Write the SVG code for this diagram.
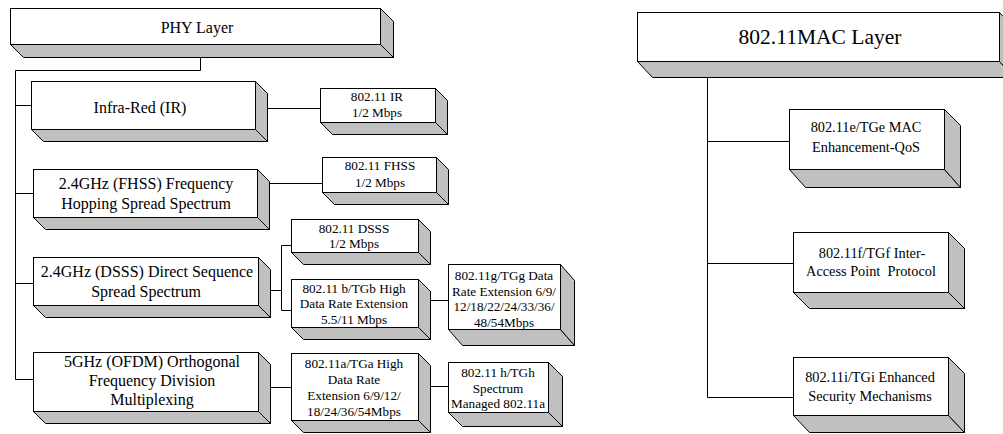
<svg xmlns="http://www.w3.org/2000/svg" width="1003" height="434" viewBox="0 0 1003 434">
<style>
.f{fill:#fff;stroke:#000;stroke-width:1}
.s{fill:#c0c0c0;stroke:#000;stroke-width:1;stroke-linejoin:miter}
.c{fill:none;stroke:#000;stroke-width:1}
text{font-family:"Liberation Serif","Times New Roman",serif;fill:#000;text-anchor:middle}
.L{font-size:16px}
.S{font-size:13.2px}
.R{font-size:14.3px}
.M{font-size:21.5px}
</style>
<rect width="1003" height="434" fill="#fff"/>
<g id="connectors">
<polyline class="c" points="200.5,57 200.5,70.5 15.5,70.5 15.5,379.5 33,379.5"/>
<line class="c" x1="15" y1="105.5" x2="31" y2="105.5"/>
<line class="c" x1="15" y1="193.5" x2="33" y2="193.5"/>
<line class="c" x1="15" y1="283.5" x2="33" y2="283.5"/>
<line class="c" x1="267" y1="108.5" x2="320" y2="108.5"/>
<line class="c" x1="269" y1="183.5" x2="322" y2="183.5"/>
<line class="c" x1="270" y1="290.5" x2="281.5" y2="290.5"/>
<polyline class="c" points="291,245.5 281.5,245.5 281.5,310.5 291,310.5"/>
<line class="c" x1="430" y1="300.5" x2="448" y2="300.5"/>
<line class="c" x1="270" y1="387.5" x2="291" y2="387.5"/>
<line class="c" x1="430" y1="386.5" x2="448" y2="386.5"/>
<polyline class="c" points="707.5,77 707.5,397.5 793,397.5"/>
<line class="c" x1="707" y1="141.5" x2="789" y2="141.5"/>
<line class="c" x1="707" y1="263.5" x2="793" y2="263.5"/>
</g>
<g id="phy">
<polygon class="s" points="10.5,44.5 380.5,44.5 393.5,57.5 23.5,57.5"/>
<polygon class="s" points="380.5,8.5 393.5,21.5 393.5,57.5 380.5,44.5"/>
<rect class="f" x="10.5" y="8.5" width="370" height="36"/>
<text class="L" x="197" y="33">PHY Layer</text>
</g>
<g id="ir">
<polygon class="s" points="31.5,129.5 255.5,129.5 267.5,141.5 43.5,141.5"/>
<polygon class="s" points="255.5,81.5 267.5,93.5 267.5,141.5 255.5,129.5"/>
<rect class="f" x="31.5" y="81.5" width="224" height="48"/>
<text class="L" x="140" y="113">Infra-Red (IR)</text>
</g>
<g id="fhss">
<polygon class="s" points="33.5,217.5 257.5,217.5 269.5,229.5 45.5,229.5"/>
<polygon class="s" points="257.5,169.5 269.5,181.5 269.5,229.5 257.5,217.5"/>
<rect class="f" x="33.5" y="169.5" width="224" height="48"/>
<text class="L" x="146" y="189">2.4GHz (FHSS) Frequency</text>
<text class="L" x="146" y="209">Hopping Spread Spectrum</text>
</g>
<g id="dsss">
<polygon class="s" points="33.5,305.5 258.5,305.5 270.5,317.5 45.5,317.5"/>
<polygon class="s" points="258.5,257.5 270.5,269.5 270.5,317.5 258.5,305.5"/>
<rect class="f" x="33.5" y="257.5" width="225" height="48"/>
<text class="L" x="147" y="277">2.4GHz (DSSS) Direct Sequence</text>
<text class="L" x="146" y="297">Spread Spectrum</text>
</g>
<g id="ofdm">
<polygon class="s" points="33.5,411.5 258.5,411.5 270.5,423.5 45.5,423.5"/>
<polygon class="s" points="258.5,352.5 270.5,364.5 270.5,423.5 258.5,411.5"/>
<rect class="f" x="33.5" y="352.5" width="225" height="59"/>
<text class="L" x="152" y="367">5GHz (OFDM) Orthogonal</text>
<text class="L" x="152" y="386">Frequency Division</text>
<text class="L" x="152" y="405">Multiplexing</text>
</g>
<g id="ir-std">
<polygon class="s" points="320.5,122.5 435.5,122.5 447.5,134.5 332.5,134.5"/>
<polygon class="s" points="435.5,88.5 447.5,100.5 447.5,134.5 435.5,122.5"/>
<rect class="f" x="320.5" y="88.5" width="115" height="34"/>
<text class="S" x="377" y="101">802.11 IR</text>
<text class="S" x="377" y="117">1/2 Mbps</text>
</g>
<g id="fhss-std">
<polygon class="s" points="322.5,192.5 436.5,192.5 448.5,204.5 334.5,204.5"/>
<polygon class="s" points="436.5,157.5 448.5,169.5 448.5,204.5 436.5,192.5"/>
<rect class="f" x="322.5" y="157.5" width="114" height="35"/>
<text class="S" x="380" y="170">802.11 FHSS</text>
<text class="S" x="380" y="187">1/2 Mbps</text>
</g>
<g id="dsss-std">
<polygon class="s" points="291.5,252.5 418.5,252.5 430.5,264.5 303.5,264.5"/>
<polygon class="s" points="418.5,219.5 430.5,231.5 430.5,264.5 418.5,252.5"/>
<rect class="f" x="291.5" y="219.5" width="127" height="33"/>
<text class="S" x="354" y="233">802.11 DSSS</text>
<text class="S" x="354" y="248">1/2 Mbps</text>
</g>
<g id="tgb">
<polygon class="s" points="291.5,327.5 418.5,327.5 430.5,339.5 303.5,339.5"/>
<polygon class="s" points="418.5,279.5 430.5,291.5 430.5,339.5 418.5,327.5"/>
<rect class="f" x="291.5" y="279.5" width="127" height="48"/>
<text class="S" x="354" y="293">802.11 b/TGb High</text>
<text class="S" x="354" y="308">Data Rate Extension</text>
<text class="S" x="354" y="324">5.5/11 Mbps</text>
</g>
<g id="tga">
<polygon class="s" points="291.5,420.5 418.5,420.5 430.5,432.5 303.5,432.5"/>
<polygon class="s" points="418.5,353.5 430.5,365.5 430.5,432.5 418.5,420.5"/>
<rect class="f" x="291.5" y="353.5" width="127" height="67"/>
<text class="S" x="354" y="368">802.11a/TGa High</text>
<text class="S" x="354" y="384">Data Rate</text>
<text class="S" x="354" y="400">Extension 6/9/12/</text>
<text class="S" x="354" y="416">18/24/36/54Mbps</text>
</g>
<g id="tgg">
<polygon class="s" points="448.5,329.5 560.5,329.5 574.5,345.5 462.5,345.5"/>
<polygon class="s" points="560.5,264.5 574.5,280.5 574.5,345.5 560.5,329.5"/>
<rect class="f" x="448.5" y="264.5" width="112" height="65"/>
<text class="S" x="504" y="280">802.11g/TGg Data</text>
<text class="S" x="504" y="296">Rate Extension 6/9/</text>
<text class="S" x="504" y="311">12/18/22/24/33/36/</text>
<text class="S" x="504" y="327">48/54Mbps</text>
</g>
<g id="tgh">
<polygon class="s" points="448.5,412.5 548.5,412.5 562.5,426.5 462.5,426.5"/>
<polygon class="s" points="548.5,362.5 562.5,376.5 562.5,426.5 548.5,412.5"/>
<rect class="f" x="448.5" y="362.5" width="100" height="50"/>
<text class="S" x="498" y="377">802.11 h/TGh</text>
<text class="S" x="498" y="393">Spectrum</text>
<text class="S" x="498" y="408">Managed 802.11a</text>
</g>
<g id="mac">
<polygon class="s" points="637.5,61.5 999.5,61.5 1014.5,77.5 652.5,77.5"/>
<polygon class="s" points="999.5,12.5 1014.5,28.5 1014.5,77.5 999.5,61.5"/>
<rect class="f" x="637.5" y="12.5" width="362" height="49"/>
<text class="M" x="820" y="44">802.11MAC Layer</text>
</g>
<g id="tge">
<polygon class="s" points="789.5,169.5 944.5,169.5 960.5,187.5 805.5,187.5"/>
<polygon class="s" points="944.5,109.5 960.5,125.5 960.5,187.5 944.5,169.5"/>
<rect class="f" x="789.5" y="109.5" width="155" height="60"/>
<text class="R" x="866" y="132">802.11e/TGe MAC</text>
<text class="R" x="866" y="152">Enhancement-QoS</text>
</g>
<g id="tgf">
<polygon class="s" points="793.5,292.5 948.5,292.5 964.5,308.5 809.5,308.5"/>
<polygon class="s" points="948.5,232.5 964.5,248.5 964.5,308.5 948.5,292.5"/>
<rect class="f" x="793.5" y="232.5" width="155" height="60"/>
<text class="R" x="872" y="258">802.11f/TGf Inter-</text>
<text class="R" x="871" y="276" xml:space="preserve">Access Point  Protocol</text>
</g>
<g id="tgi">
<polygon class="s" points="793.5,415.5 948.5,415.5 964.5,432.5 809.5,432.5"/>
<polygon class="s" points="948.5,357.5 964.5,373.5 964.5,432.5 948.5,415.5"/>
<rect class="f" x="793.5" y="357.5" width="155" height="58"/>
<text class="R" x="870" y="382">802.11i/TGi Enhanced</text>
<text class="R" x="870" y="401">Security Mechanisms</text>
</g>
</svg>
